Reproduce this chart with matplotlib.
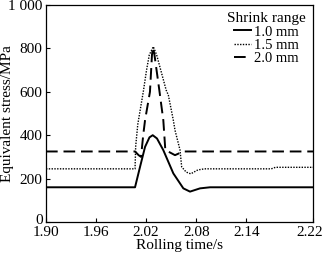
import matplotlib
matplotlib.use("Agg")
import matplotlib.pyplot as plt
import matplotlib.transforms as mtransforms

plt.rcParams['font.family'] = ['Liberation Serif', 'DejaVu Serif']
plt.rcParams['mathtext.fontset'] = 'stix'

# Data
t_10 = [1.90, 2.0067, 2.0127, 2.0187, 2.0240, 2.0279, 2.0330, 2.0406, 2.0526,
        2.0646, 2.0726, 2.0846, 2.0966, 2.22]
s_10 = [160, 160, 254, 346, 390, 400, 385, 331, 224, 155, 140, 155, 160, 160]

t_15 = [1.90, 2.0067, 2.0075, 2.0100, 2.0135, 2.0166, 2.0205, 2.0238, 2.0286,
        2.0326, 2.0440, 2.0466, 2.0526, 2.0546, 2.0606, 2.0626, 2.0680, 2.0735,
        2.0820, 2.0900, 2.1700, 2.1750, 2.22]
s_15 = [245, 245, 350, 450, 530, 600, 700, 770, 808,
        770, 608, 585, 469, 423, 332, 254, 230, 222,
        240, 245, 245, 252, 252]

t_20 = [1.90, 2.0067, 2.0110, 2.0139, 2.0165, 2.0187, 2.0246, 2.0270, 2.0282,
        2.0300, 2.0358, 2.0406, 2.0430, 2.0546, 2.0646, 2.22]
s_20 = [325, 325, 308, 300, 400, 469, 600, 770, 805,
        770, 608, 469, 332, 308, 325, 325]

x_ticks = [1.90, 1.96, 2.02, 2.08, 2.14, 2.22]
x_labels = ["1.90", "1.96", "2.02", "2.08", "2.14", "2.22"]
y_ticks = [0, 200, 400, 600, 800, 1000]
y_labels = ["0", "200", "400", "600", "800", "1 000"]
legend_labels = ["1.0 mm", "1.5 mm", "2.0 mm"]

fs = 11
fig = plt.figure(figsize=(3.22, 2.54), dpi=100)
ax = fig.add_axes([46/322, 1-222/254, (313-46)/322, (222-5)/254])

ax.plot(t_10, s_10, color='black', lw=1.4, ls='-', label=legend_labels[0])
ax.plot(t_15, s_15, color='black', lw=1.0, ls=(0, (1, 1)), label=legend_labels[1])
ax.plot(t_20, s_20, color='black', lw=1.4, ls=(0, (6, 3)), label=legend_labels[2])

ax.set_xlim(1.90, 2.22)
ax.set_ylim(0, 1000)
ax.set_xticks(x_ticks)
ax.set_xticklabels(x_labels)
ax.set_yticks(y_ticks)
ax.set_yticklabels(y_labels)
ax.tick_params(direction='in', length=3, width=0.8, labelsize=fs, pad=2.5)
ax.tick_params(axis='x', pad=3)
for sp in ax.spines.values():
    sp.set_linewidth(0.9)

# small nudges so edge labels stay readable, as in the reference
ylab0 = ax.get_yticklabels()[0]
ylab0.set_transform(ylab0.get_transform() +
                    mtransforms.ScaledTranslation(0, 3/100, fig.dpi_scale_trans))
xlab_last = ax.get_xticklabels()[-1]
xlab_last.set_transform(xlab_last.get_transform() +
                        mtransforms.ScaledTranslation(-3/100, 0, fig.dpi_scale_trans))

ax.set_xlabel("Rolling time/s", fontsize=fs, labelpad=0)
ax.xaxis.set_label_coords(0.5, -0.08)
ax.set_ylabel("Equivalent stress/MPa", fontsize=fs)
ax.yaxis.set_label_coords(-0.118, 0.5)

leg = ax.legend(title="Shrink range", loc='upper right', frameon=False,
                fontsize=10.5, title_fontsize=fs, handlelength=1.2,
                handletextpad=0.2, labelspacing=0.0, borderaxespad=0.3,
                borderpad=0.2)

fig.savefig("out.png", dpi=100)
